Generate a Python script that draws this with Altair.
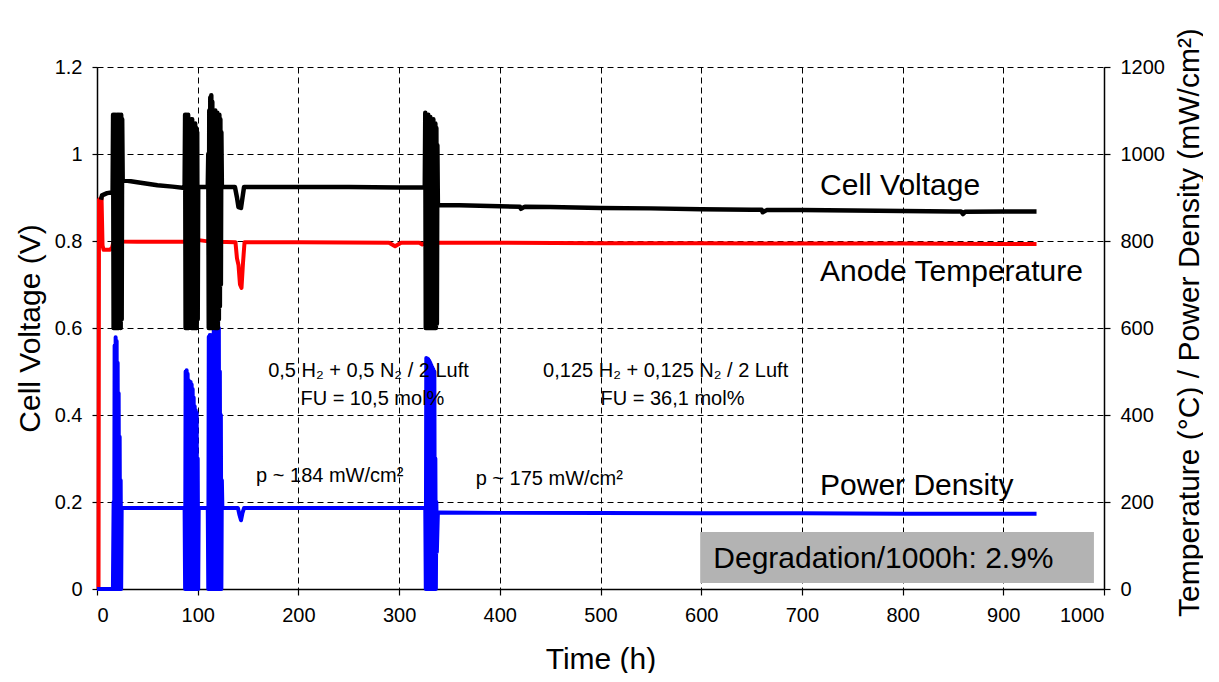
import altair as alt
import pandas as pd

FONT = "Liberation Sans"

# ---------------- Cell voltage (V), left axis ----------------
V_T = [4.0, 5, 10, 15.5,
       16, 16.5, 17, 17.5, 18, 18.5, 19, 19.5, 20, 20.5, 21, 21.5, 22, 22.5,
       23, 23.5, 24, 24.5, 25, 25.5,
       40, 60, 75, 87,
       87.5, 88, 88.5, 89, 89.5, 90, 90.5, 91, 91.5, 92, 92.5,
       93.5, 94, 94.5, 95, 95.5, 96, 96.5, 97, 97.5, 98, 98.5, 99, 99.5, 100, 100.5,
       105, 110,
       110.5, 111, 111.5, 112, 112.5, 113, 113.5, 114, 114.5, 115, 115.5, 116,
       116.5, 117, 117.5, 118, 118.5, 119, 119.5, 120, 120.5, 121, 121.5, 122,
       122.5, 123, 123.5, 124,
       130, 137, 139, 140.5, 143, 144.5, 146, 160, 200, 250, 300, 325.5,
       326, 326.5, 327, 327.5, 328, 328.5, 329, 329.5, 330, 330.5, 331, 331.5,
       332, 332.5, 333, 333.5, 334, 334.5, 335, 335.5, 336, 336.5, 337, 337.5,
       338, 338.5,
       360, 400, 420, 421, 425, 450, 500, 550, 600, 650, 660, 661, 665, 700,
       750, 800, 850, 858, 860, 862, 900, 933]
V_V = [0.895, 0.905, 0.91, 0.912,
       1.09, 0.60, 1.09, 0.60, 1.09, 0.60, 1.08, 0.60, 1.09, 0.60, 1.09, 0.60, 1.09, 0.61,
       1.08, 0.60, 1.09, 0.62, 1.08, 0.94,
       0.935, 0.928, 0.925, 0.922,
       1.09, 0.60, 1.09, 0.60, 1.08, 0.60, 1.09, 0.60, 1.08, 0.61, 0.92,
       1.08, 0.60, 1.08, 0.60, 1.07, 0.60, 1.07, 0.60, 1.07, 0.60, 1.06, 0.60, 1.05, 0.62, 0.924,
       0.924, 0.924,
       1.00, 0.60, 1.10, 0.60, 1.13, 0.60, 1.135, 0.60, 1.12, 0.60, 1.08, 0.62,
       1.09, 0.60, 1.10, 0.60, 1.09, 0.60, 1.095, 0.60, 1.09, 0.62, 1.09, 0.65,
       1.08, 0.70, 1.05, 0.924,
       0.924, 0.924, 0.90, 0.878, 0.876, 0.90, 0.924, 0.924, 0.924, 0.924, 0.923, 0.923,
       1.095, 0.60, 1.09, 0.60, 1.09, 0.60, 1.09, 0.60, 1.085, 0.60, 1.085, 0.60,
       1.08, 0.60, 1.08, 0.60, 1.08, 0.60, 1.07, 0.60, 1.07, 0.60, 1.06, 0.61,
       1.02, 0.882,
       0.882, 0.880, 0.879, 0.874, 0.879, 0.878, 0.876, 0.875, 0.873, 0.872, 0.872, 0.866,
       0.871, 0.871, 0.870, 0.869, 0.868, 0.868, 0.862, 0.867, 0.868, 0.868]

# ---------------- Anode temperature (°C), right axis ----------------
T_T = [1.5, 2.0, 4.5, 5.5, 6.5, 13, 15, 16, 18, 20, 22,
       40, 60, 88, 89, 90, 100, 101, 114, 115, 118, 119,
       137.5, 139, 140.5, 142, 143.5, 145, 146.5,
       200, 290, 296, 302, 320, 323, 326,
       330, 331, 332,
       400, 500, 600, 700, 800, 900, 933]
T_V = [0, 895, 900, 790, 780, 780, 785, 795, 800, 803, 799,
       798, 798, 798, 803, 798, 798, 802, 798, 805, 806, 798,
       797, 760, 745, 700, 692, 750, 797,
       797, 796, 788, 796, 796, 792, 796,
       796, 802, 796,
       796, 795, 795, 794, 794, 793, 793]

# ---------------- Power density (mW/cm²), right axis ----------------
P_T = [0, 15.8,
       16.5, 17, 17.5, 18, 18.5, 19, 19.5, 20, 20.5, 21, 21.5, 22, 22.5, 23, 23.5, 24, 24.5,
       40, 60, 87,
       87.5, 88, 88.5, 89, 89.5, 90, 90.5, 91, 91.5, 92, 92.5,
       93, 93.5, 94, 94.5, 95, 95.5, 96, 96.5, 97, 97.5, 98, 98.5, 99, 99.5, 100, 100.5, 101,
       110,
       110.5, 111, 111.5, 112, 112.5, 113, 113.5, 114, 114.5, 115, 115.5, 116,
       116.5, 117, 117.5, 118, 118.5, 119, 119.5, 120, 120.5, 121, 121.5, 122,
       122.5, 123, 123.5, 124, 124.5,
       140, 141.5, 143, 144.5, 146,
       200, 250, 326,
       326.5, 327, 327.5, 328, 328.5, 329, 329.5, 330, 330.5, 331, 331.5, 332,
       332.5, 333, 333.5, 334, 334.5, 335, 335.5, 336, 336.5, 337, 337.5, 338.5,
       339.5, 400, 500, 600, 700, 800, 900, 933]
P_V = [0, 0,
       200, 0, 560, 0, 579, 0, 570, 0, 520, 0, 450, 0, 350, 0, 250, 0, 186,
       186, 186, 186,
       0, 500, 0, 503, 0, 495, 0, 480, 0, 470, 0,
       476, 0, 470, 0, 460, 0, 440, 0, 420, 0, 411, 0, 405, 0, 300, 0, 186,
       186,
       0, 580, 0, 584, 0, 584, 0, 580, 0, 575, 0, 640,
       0, 655, 0, 657, 0, 650, 0, 640, 0, 600, 0, 500,
       0, 400, 0, 250, 186,
       186, 170, 158, 175, 186,
       186, 186, 186,
       0, 531, 0, 530, 0, 528, 0, 525, 0, 520, 0, 515,
       0, 510, 0, 505, 0, 500, 0, 300, 0, 200, 85, 175,
       176, 175, 175, 174, 174, 173, 173, 173]

assert len(V_T) == len(V_V), (len(V_T), len(V_V))
assert len(T_T) == len(T_V), (len(T_T), len(T_V))
assert len(P_T) == len(P_V), (len(P_T), len(P_V))

# ---------------- Annotations ----------------
LABEL_TEXT = ["Cell Voltage", "Anode Temperature", "Power Density",
              "0,5 H\u2082 + 0,5 N\u2082 / 2 Luft", "FU = 10,5 mol%",
              "0,125 H\u2082 + 0,125 N\u2082 / 2 Luft", "FU = 36,1 mol%",
              "p ~ 184 mW/cm\u00b2", "p ~ 175 mW/cm\u00b2",
              "Degradation/1000h: 2.9%"]
LABEL_T = [718, 718, 718, 170, 202, 443, 500, 158, 376, 612]
LABEL_V = [0.906, 0.708, 0.216, 0.487, 0.423, 0.487, 0.423, 0.246, 0.239, 0.048]
LABEL_SIZE = [30, 30, 30, 20, 20, 20, 20, 20, 20, 30]

BOX_T = [599]
BOX_T2 = [990]
BOX_V = [0.014]
BOX_V2 = [0.131]

X_TICKS = list(range(0, 1001, 100))
V_TICKS = [0, 0.2, 0.4, 0.6, 0.8, 1.0, 1.2]
R_TICKS = [0, 200, 400, 600, 800, 1000, 1200]

W, H = 1007, 522

volt_df = pd.DataFrame({"t": V_T, "v": V_V})
right_df = pd.concat([
    pd.DataFrame({"t": T_T, "p": T_V, "series": "Anode Temperature"}),
    pd.DataFrame({"t": P_T, "p": P_V, "series": "Power Density"}),
], ignore_index=True)
label_df = pd.DataFrame({"t": LABEL_T, "v": LABEL_V, "text": LABEL_TEXT, "size": LABEL_SIZE})
box_df = pd.DataFrame({"t": BOX_T, "t2": BOX_T2, "v": BOX_V, "v2": BOX_V2})

x_scale = alt.Scale(domain=[0, 1000], nice=False, zero=False)
x_axis = alt.Axis(title="Time (h)", values=X_TICKS, format="d", grid=True,
                  tickSize=6, labelPadding=10, titleX=W / 2, titleY=79,
                  titleBaseline="alphabetic", titleAlign="center")
X = alt.X("t:Q", scale=x_scale, axis=x_axis)

right_layer = alt.Chart(right_df).mark_line(strokeWidth=4, strokeJoin="round").encode(
    x=X,
    y=alt.Y("p:Q", scale=alt.Scale(domain=[0, 1200], nice=False),
            axis=alt.Axis(orient="right", title="Temperature (°C) / Power Density (mW/cm²)",
                          values=R_TICKS, format="d", grid=False, tickSize=6,
                          labelPadding=10, titleAngle=270, titleX=85, titleY=H / 2 - 6,
                          titleBaseline="middle", titleAlign="center")),
    color=alt.Color("series:N",
                    scale=alt.Scale(domain=["Anode Temperature", "Power Density"],
                                    range=["#ff0000", "#0000ff"]),
                    legend=None),
)

V_scale = alt.Scale(domain=[0, 1.2], nice=False)
V_axis = alt.Axis(orient="left", title="Cell Voltage (V)", values=V_TICKS, format=".1~f",
                  grid=True, tickSize=5, labelPadding=10, titleAngle=270,
                  titleX=-67, titleY=H / 2, titleBaseline="middle", titleAlign="center")

volt_line = alt.Chart(volt_df).mark_line(color="black", strokeWidth=4.5, strokeJoin="round").encode(
    x=X, y=alt.Y("v:Q", scale=V_scale, axis=V_axis)
)
box = alt.Chart(box_df).mark_rect(color="#b3b3b3").encode(
    x=X, x2="t2:Q", y=alt.Y("v:Q", scale=V_scale, axis=V_axis), y2="v2:Q"
)
labels = alt.Chart(label_df).mark_text(align="left", baseline="alphabetic", font=FONT,
                                       color="black").encode(
    x=X, y=alt.Y("v:Q", scale=V_scale, axis=V_axis), text="text:N",
    size=alt.Size("size:Q", scale=None, legend=None)
)

left_layer = alt.layer(volt_line, box, labels)

chart = alt.layer(right_layer, left_layer).resolve_scale(y="independent").properties(
    width=W, height=H,
    padding={"left": 89, "top": 59, "right": 99, "bottom": 84},
    autosize=alt.AutoSizeParams(type="none"),
).configure_view(stroke=None).configure_axis(
    labelFont=FONT, titleFont=FONT, labelFontSize=20, titleFontSize=30,
    labelColor="black", titleColor="black", titleFontWeight="normal",
    domainColor="black", domainWidth=1.5, tickColor="black", tickWidth=1.2,
    gridColor="black", gridDash=[6, 4], gridWidth=1, gridOpacity=1,
)

chart.save("out.html", embed_options={"renderer": "svg", "actions": False})
